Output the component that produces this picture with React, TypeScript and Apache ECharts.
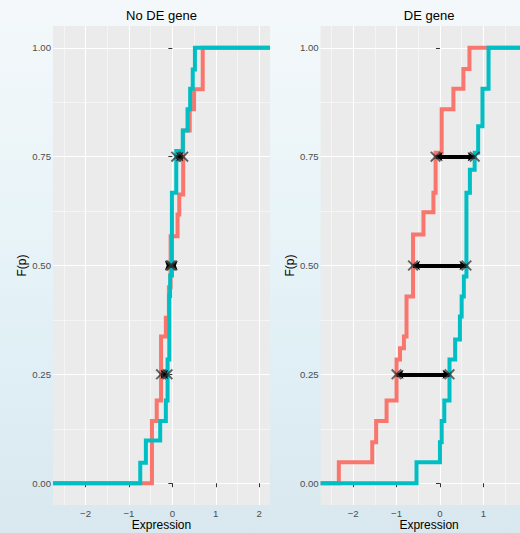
import React, { useEffect, useRef } from "react";
import * as echarts from "echarts";

// ---- data ----
const panelTitles = ["No DE gene", "DE gene"];
const xTicks = [-2, -1, 0, 1, 2];
const xLabelsLeft = [-2, -1, 0, 1, 2];
const xLabelsRight = [-2, -1, 0, 1];
const xMinor = [-2.5, -1.5, -0.5, 0.5, 1.5];
const yTicks = [0, 0.25, 0.5, 0.75, 1];
const yMinor = [0.125, 0.375, 0.625, 0.875];
const xMin = -2.75;
const xMax = 2.25;
const yMin = -0.05;
const yMax = 1.05;

// ECDF step points: [x of jump, level after jump]
const noDeRed: [number, number][] = [
  [-2.75, 0], [-0.47, 0.143], [-0.36, 0.19], [-0.26, 0.337], [-0.15, 0.38],
  [-0.08, 0.45], [-0.04, 0.567], [0.12, 0.617], [0.16, 0.663], [0.25, 0.81],
  [0.4, 0.859], [0.5, 0.905], [0.7, 1], [2.25, 1],
];
const noDeTeal: [number, number][] = [
  [-2.75, 0], [-0.74, 0.047], [-0.61, 0.098], [-0.28, 0.143], [-0.15, 0.19],
  [-0.11, 0.284], [-0.07, 0.43], [-0.05, 0.477], [-0.01, 0.667], [0.09, 0.763],
  [0.24, 0.81], [0.35, 0.859], [0.41, 0.906], [0.47, 0.95], [0.52, 1], [2.25, 1],
];
const deRed: [number, number][] = [
  [-2.75, 0], [-2.33, 0.048], [-1.56, 0.094], [-1.47, 0.143], [-1.23, 0.19],
  [-1.0, 0.284], [-0.92, 0.31], [-0.83, 0.337], [-0.77, 0.429], [-0.62, 0.571],
  [-0.38, 0.622], [-0.15, 0.667], [-0.1, 0.759], [0.04, 0.859], [0.31, 0.906],
  [0.54, 0.951], [0.68, 1], [2.25, 1],
];
const deTeal: [number, number][] = [
  [-2.75, 0], [-0.54, 0.048], [0.0, 0.094], [0.04, 0.143], [0.1, 0.19],
  [0.22, 0.284], [0.35, 0.33], [0.46, 0.383], [0.5, 0.429], [0.55, 0.475],
  [0.61, 0.667], [0.69, 0.72], [0.8, 0.759], [0.88, 0.82], [0.98, 0.906],
  [1.12, 1], [2.25, 1],
];

const quantileLevels = [0.25, 0.5, 0.75];
const noDeRedQ = [-0.26, -0.04, 0.25];
const noDeTealQ = [-0.11, -0.01, 0.09];
const deRedQ = [-1.0, -0.62, -0.1];
const deTealQ = [0.22, 0.61, 0.8];

const RED = "#F8766D";
const TEAL = "#00BFC4";
const FONT = "Liberation Sans, Arial, Helvetica, sans-serif";
const X_PATH = "path://M0,1.2L1.2,0L10,8.8L8.8,10Z M8.8,0L10,1.2L1.2,10L0,8.8Z";

const fmtX = (v: number) => (v < 0 ? "\u2212" + Math.abs(v) : String(v));

export default function App() {
  const ref = useRef<HTMLDivElement>(null);

  useEffect(() => {
    if (!ref.current) return;
    const chart = echarts.init(ref.current, undefined, { renderer: "svg" });

    const grids = [
      { left: 53, top: 26, width: 217, height: 479 },
      { left: 320.6, top: 26, width: 217, height: 479 },
    ];
    const xLabelSets = [xLabelsLeft, xLabelsRight];

    const xAxes: any[] = [];
    const yAxes: any[] = [];
    grids.forEach((_, gi) => {
      xAxes.push({
        type: "value", gridIndex: gi, min: xMin, max: xMax, position: "bottom",
        axisLine: { show: false },
        axisTick: { show: true, customValues: xTicks, length: 4, lineStyle: { color: "#333333", width: 1 } },
        axisLabel: { customValues: xLabelSets[gi], formatter: fmtX, color: "#4D4D4D", fontSize: 9.6, margin: 3, fontFamily: FONT },
        splitLine: { show: true, lineStyle: { color: "#FFFFFF", width: 1.1 } },
        name: "Expression", nameLocation: "middle", nameGap: 14, nameMoveOverlap: false,
        nameTextStyle: { fontSize: 12, color: "#000000", fontFamily: FONT },
      });
      xAxes.push({
        type: "value", gridIndex: gi, min: xMin, max: xMax, position: "bottom",
        axisLine: { show: false },
        axisTick: { show: false, customValues: xMinor },
        axisLabel: { show: false, customValues: xMinor },
        splitLine: { show: true, lineStyle: { color: "#FFFFFF", width: 0.5 } },
      });
      yAxes.push({
        type: "value", gridIndex: gi, min: yMin, max: yMax, position: "left",
        axisLine: { show: false },
        axisTick: { show: true, customValues: yTicks, length: 4, lineStyle: { color: "#333333", width: 1 } },
        axisLabel: { customValues: yTicks, formatter: (v: number) => v.toFixed(2), color: "#4D4D4D", fontSize: 9.6, margin: 2, fontFamily: FONT },
        splitLine: { show: true, lineStyle: { color: "#FFFFFF", width: 1.1 } },
        name: "F(p)", nameLocation: "middle", nameGap: 25, nameRotate: 90, nameMoveOverlap: false,
        nameTextStyle: { fontSize: 12, color: "#000000", fontFamily: FONT },
      });
      yAxes.push({
        type: "value", gridIndex: gi, min: yMin, max: yMax, position: "left",
        axisLine: { show: false },
        axisTick: { show: false, customValues: yMinor },
        axisLabel: { show: false, customValues: yMinor },
        splitLine: { show: true, lineStyle: { color: "#FFFFFF", width: 0.5 } },
      });
    });

    const panels = [
      { red: noDeRed, teal: noDeTeal, rq: noDeRedQ, tq: noDeTealQ },
      { red: deRed, teal: deTeal, rq: deRedQ, tq: deTealQ },
    ];

    const series: any[] = [];
    panels.forEach((p, gi) => {
      const xi = gi * 2;
      const yi = gi * 2;
      series.push({
        type: "line", xAxisIndex: xi, yAxisIndex: yi, step: "end", data: p.red,
        showSymbol: false, symbol: "none", lineStyle: { color: RED, width: 4, join: "miter" }, z: 2,
      });
      series.push({
        type: "line", xAxisIndex: xi, yAxisIndex: yi, step: "end", data: p.teal,
        showSymbol: false, symbol: "none", lineStyle: { color: TEAL, width: 4, join: "miter" }, z: 3,
      });
      series.push({
        type: "lines", coordinateSystem: "cartesian2d", xAxisIndex: xi, yAxisIndex: yi,
        symbol: ["arrow", "arrow"], symbolSize: 7,
        lineStyle: { color: "#000000", width: 4, opacity: 1, curveness: 0 },
        data: quantileLevels.map((q, i) => ({ coords: [[p.tq[i], q], [p.rq[i], q]] })),
        z: 4,
      });
      series.push({
        type: "scatter", xAxisIndex: xi, yAxisIndex: yi, symbol: X_PATH, symbolSize: 11,
        itemStyle: { color: "#333333", opacity: 0.75 },
        data: quantileLevels.flatMap((q, i) => [[p.rq[i], q], [p.tq[i], q]]),
        z: 5,
      });
    });

    chart.setOption({
      animation: false,
      backgroundColor: "transparent",
      grid: grids.map((g) => ({
        ...g, show: true, backgroundColor: "#EBEBEB", borderWidth: 0,
        containLabel: false, outerBoundsMode: "none",
      })),
      xAxis: xAxes,
      yAxis: yAxes,
      series,
      graphic: panelTitles.map((t, i) => ({
        type: "text",
        x: grids[i].left + grids[i].width / 2,
        y: 15,
        style: { text: t, fontSize: 13, fontFamily: FONT, fill: "#000000", align: "center", verticalAlign: "middle" },
      })),
    });

    return () => chart.dispose();
  }, []);

  return (
    <div
      style={{
        position: "fixed", left: 0, top: 0, width: 520, height: 533, overflow: "hidden",
        background: "linear-gradient(180deg, #f4f8fa 0%, #e9f4f8 40%, #dfeff5 70%, #d8e8ee 100%)",
      }}
    >
      <div ref={ref} style={{ width: 560, height: 533 }} />
    </div>
  );
}
